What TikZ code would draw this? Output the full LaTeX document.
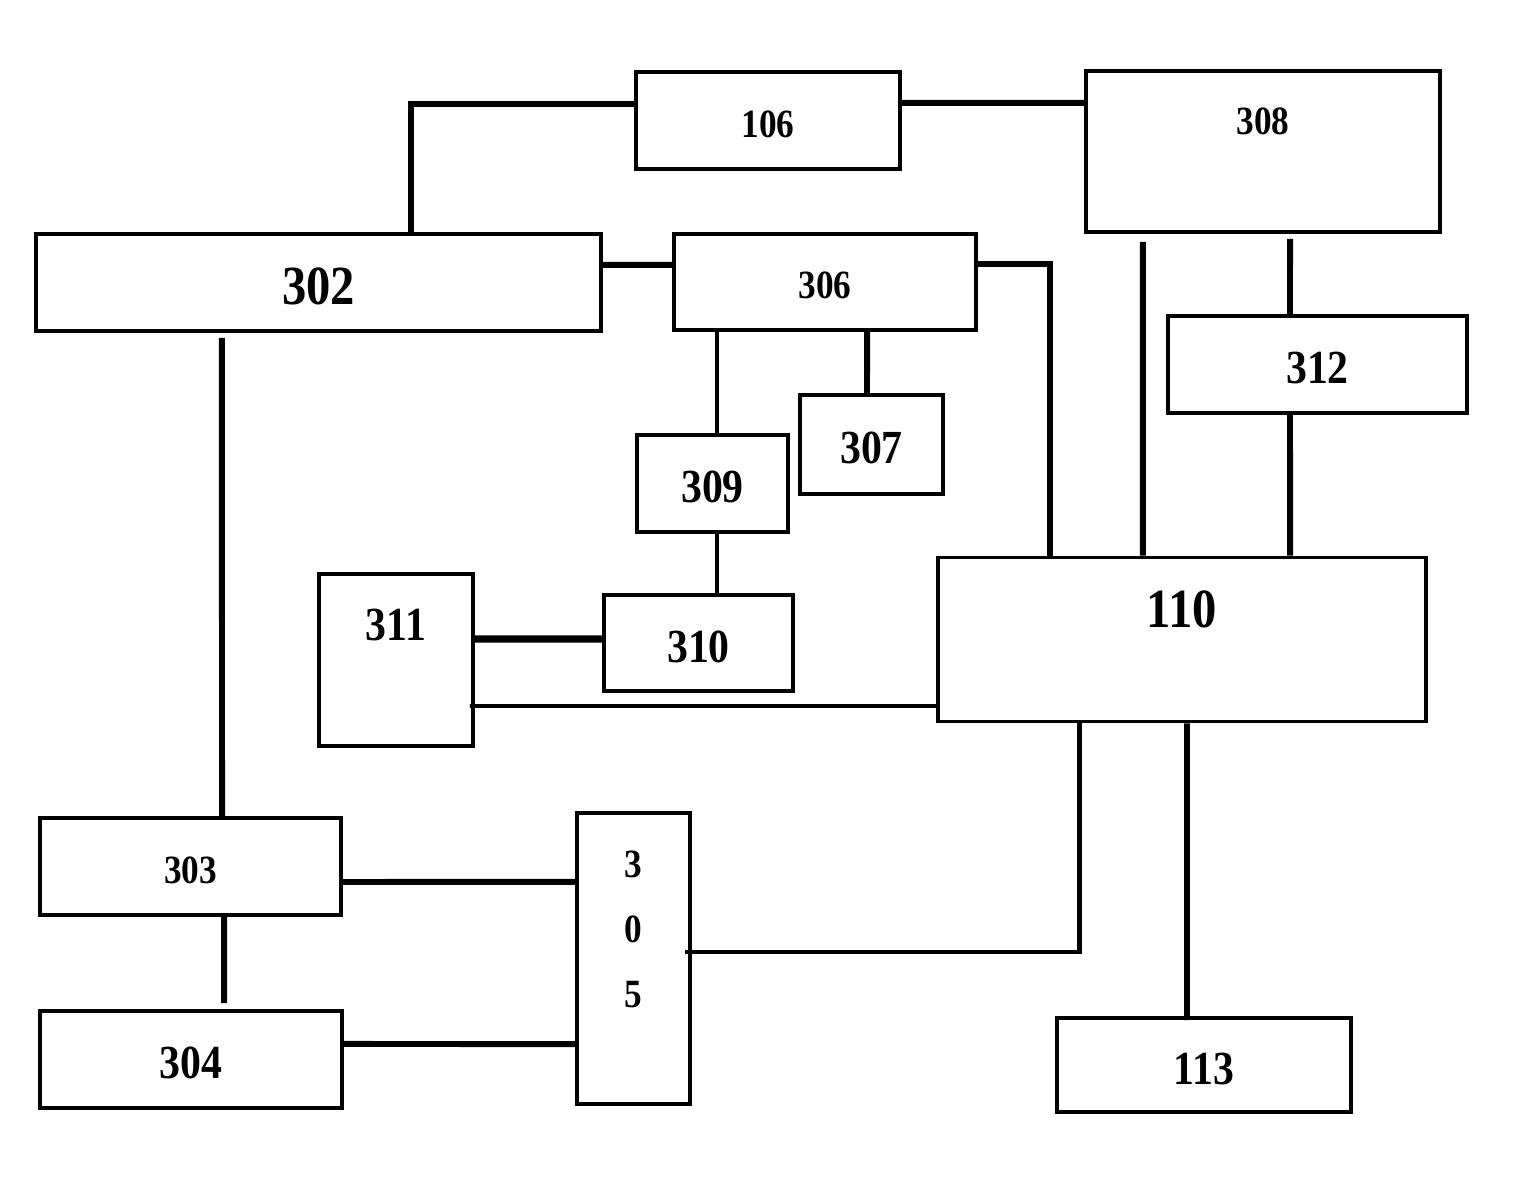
\documentclass[tikz,border=0pt]{standalone}
\usepackage{fontspec}
\newfontfamily\figfont{Liberation Serif}[FakeStretch=0.88]
\usepackage{tikz}
\usetikzlibrary{positioning}

\begin{document}
\begin{tikzpicture}[
  x=0.01cm, y=-0.01cm,
  box/.style={rectangle, draw=black, line width=1.1pt, inner sep=0pt},
  lblL/.style={inner sep=0pt, text height=12.4pt, font=\figfont\bfseries\fontsize{15.7}{18}\selectfont},
  lblM/.style={inner sep=0pt, text height=11pt, font=\figfont\bfseries\fontsize{13.5}{16}\selectfont},
  lblS/.style={inner sep=0pt, text height=9.6pt, font=\figfont\bfseries\fontsize{11.4}{14}\selectfont},
  wire/.style={line width=1.7pt},
  thinwire/.style={line width=1.1pt}
]
\useasboundingbox (0,0) rectangle (1526,1195);

% Top row
\node[box, lblS, minimum width=2.64cm, minimum height=0.97cm] (b106) at (768,120.5) {106};
\node[box, minimum width=3.54cm, minimum height=1.61cm] (b308) at (1263,151.5) {};
\node[lblS] (t308) [below=0.31cm of b308.north] {308};

% Second row
\node[box, lblL, minimum width=5.65cm, minimum height=0.97cm] (b302) at (318.5,282.5) {302};
\node[box, lblS, minimum width=3.02cm, minimum height=0.96cm] (b306) at (825,282) {306};
\node[box, lblM, minimum width=2.99cm, minimum height=0.97cm] (b312) at (1317.5,364.5) {312};

% Middle blocks
\node[box, lblM, minimum width=1.43cm, minimum height=0.99cm] (b307) at (871.5,444.5) {307};
\node[box, lblM, minimum width=1.51cm, minimum height=0.97cm] (b309) at (712.5,483.5) {309};
\node[box, lblM, minimum width=1.89cm, minimum height=0.96cm] (b310) at (698.5,643) {310};
\node[box, minimum width=1.54cm, minimum height=1.72cm] (b311) at (396,660) {};
\node[lblM] (t311) [below=0.29cm of b311.north] {311};
\node[box, minimum width=4.88cm, minimum height=1.64cm] (b110) at (1182,639.5) {};
\node[lblL] (t110) [below=0.28cm of b110.north] {110};

% Bottom row
\node[box, lblS, minimum width=3.01cm, minimum height=0.97cm] (b303) at (190.5,866.5) {303};
\node[box, lblM, minimum width=3.02cm, minimum height=0.97cm] (b304) at (191,1059.5) {304};
\node[box, minimum width=1.13cm, minimum height=2.91cm] (b305) at (633.5,958.5) {};
\node[inner sep=0pt, align=center, font=\figfont\bfseries\fontsize{11.4}{18.5}\selectfont]
  (t305) at ([yshift=0.29cm]b305.center) {3\\0\\5};
\node[box, lblM, minimum width=2.94cm, minimum height=0.94cm] (b113) at (1204,1065) {113};

% Connections
\draw[wire] ([xshift=0.925cm]b302.north) |- ([yshift=0.165cm]b106.west);
\draw[wire] ([yshift=0.175cm]b106.east) -- ([yshift=0.485cm]b308.west);
\draw[wire] ([yshift=0.175cm]b302.east) -- ([yshift=0.17cm]b306.west);
\draw[wire] ([yshift=0.18cm]b306.east) -| ([xshift=-1.32cm]b110.north);
\draw[wire] ([xshift=-1.2cm,yshift=-0.08cm]b308.south) -- ([xshift=-0.39cm]b110.north);
\draw[wire] ([xshift=0.27cm,yshift=-0.05cm]b308.south) -- ([xshift=-0.275cm]b312.north);
\draw[wire] ([xshift=-0.275cm]b312.south) -- ([xshift=1.08cm]b110.north);
\draw[thinwire] ([xshift=-1.08cm]b306.south) -- ([xshift=0.045cm]b309.north);
\draw[wire] ([xshift=0.42cm]b306.south) -- ([xshift=-0.045cm]b307.north);
\draw[thinwire] ([xshift=0.045cm]b309.south) -- ([xshift=0.185cm]b310.north);
\draw[line width=2.1pt] ([yshift=0.21cm]b311.east) -- ([yshift=0.04cm]b310.west);
\draw[thinwire] ([xshift=-0.05cm,yshift=-0.46cm]b311.east) -- ([yshift=-0.665cm]b110.west);
\draw[wire] ([xshift=-0.965cm,yshift=-0.05cm]b302.south) -- ([xshift=0.315cm]b303.north);
\draw[wire] ([xshift=0.335cm]b303.south) -- ([xshift=0.33cm,yshift=0.06cm]b304.north);
\draw[wire] ([yshift=-0.155cm]b303.east) -- ([yshift=0.765cm]b305.west);
\draw[wire] ([yshift=0.155cm]b304.east) -- ([yshift=-0.855cm]b305.west);
\draw[line width=1.4pt] ([xshift=-1.02cm]b110.south) |- ([xshift=-0.07cm,yshift=0.065cm]b305.east);
\draw[wire] ([xshift=0.05cm]b110.south) -- ([xshift=-0.17cm,yshift=-0.04cm]b113.north);
\end{tikzpicture}
\end{document}
